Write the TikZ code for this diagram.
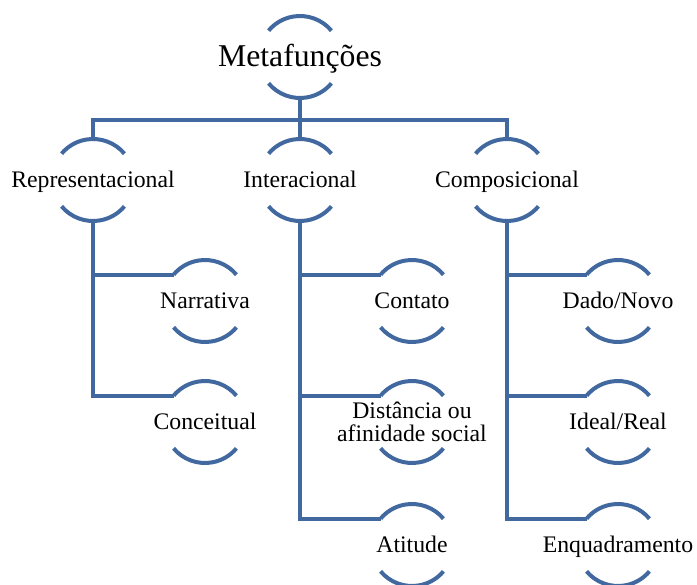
\documentclass[tikz,border=0pt]{standalone}
\usepackage{fontspec}
\setmainfont{Liberation Serif}
\definecolor{arcblue}{RGB}{65,105,160}
\begin{document}
\begin{tikzpicture}[x=0.75pt,y=-0.75pt,
    every label/.style={font=\fontsize{17.8}{17.5}\selectfont,align=center},
    main node/.style={circle,minimum size=61.5pt,inner sep=0pt,outer sep=0pt,
        label={[text height=16pt,text depth=4.2pt]center:#1}},
    two line node/.style={circle,minimum size=61.5pt,inner sep=0pt,outer sep=0pt,
        label={center:#1}},
    top node/.style={circle,minimum size=61.5pt,inner sep=0pt,outer sep=0pt,
        label={[font=\fontsize{23.8}{26}\selectfont,text height=20.4pt,text depth=6.6pt]center:#1}},
    link/.style={draw=arcblue,line width=3pt}]
        \useasboundingbox (0,0) rectangle (697,585);

        \node[top node=Metafunções] at (300, 57) (meta) {};
        \node[main node=Representacional] at (93, 180) (rep) {};
        \node[main node=Interacional] at (300, 180) (int) {};
        \node[main node=Composicional] at (507, 180) (comp) {};
        \node[main node=Narrativa] at (205, 301) (narr) {};
        \node[main node=Conceitual] at (205, 422) (conc) {};
        \node[main node=Contato] at (412, 301) (cont) {};
        \node[two line node={Distância ou\\afinidade social}] at (412, 422) (dist) {};
        \node[main node=Atitude] at (412, 545) (atit) {};
        \node[main node=Dado/Novo] at (618, 301) (dado) {};
        \node[main node=Ideal/Real] at (618, 422) (ideal) {};
        \node[main node=Enquadramento] at (618, 545) (enq) {};
        \coordinate (bar) at (300, 120);

        % arcs above and below each label
        \foreach \n in {meta,rep,int,comp,narr,conc,cont,dist,atit,dado,ideal,enq}
            \draw[link] (\n.40) arc (40:140:30.75pt) (\n.220) arc (220:320:30.75pt);

        \draw[link] (meta.south) -- (bar) -| (rep.north);
        \draw[link] (bar) -| (comp.north);
        \draw[link] (bar) -- (int.north);
        \draw[link] (rep.south) |- (narr.140);
        \draw[link] (rep.south) |- (conc.140);
        \draw[link] (int.south) |- (cont.140);
        \draw[link] (int.south) |- (dist.140);
        \draw[link] (int.south) |- (atit.140);
        \draw[link] (comp.south) |- (dado.140);
        \draw[link] (comp.south) |- (ideal.140);
        \draw[link] (comp.south) |- (enq.140);
    \end{tikzpicture}
\end{document}
